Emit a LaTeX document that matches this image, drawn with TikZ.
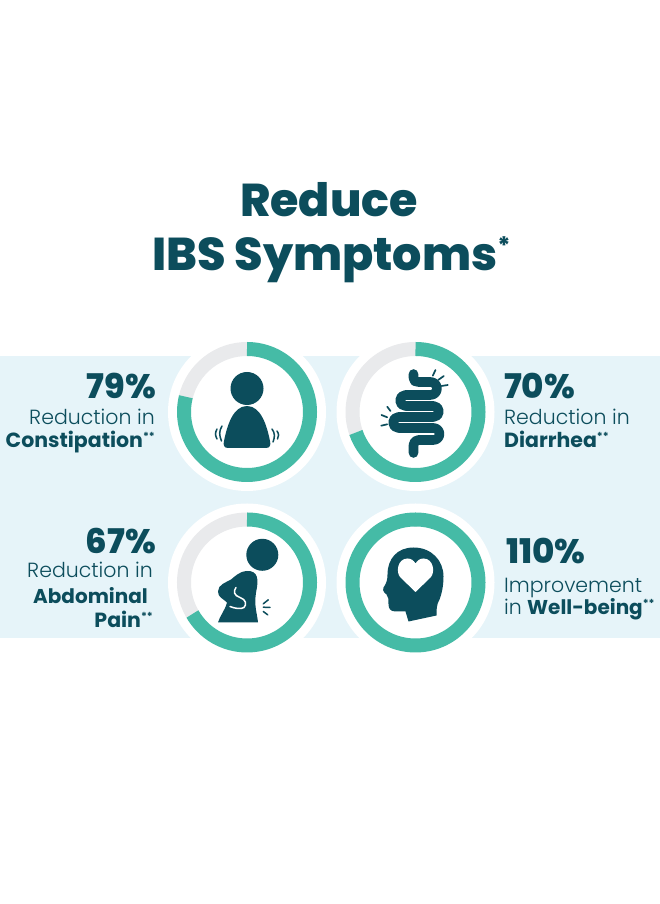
\documentclass[tikz,border=0pt]{standalone}
\usepackage{fontspec}
\setmainfont{Poppins}
\newfontfamily\lightfont{Poppins Light}
\newfontfamily\heavyfont{Poppins ExtraBold}
\definecolor{darkteal}{HTML}{0C4D5C}
\definecolor{ringteal}{HTML}{45BBA6}
\definecolor{ringgray}{HTML}{E9EAEC}
\definecolor{bandblue}{HTML}{E6F4F9}
\newcommand{\starmark}[1]{\raisebox{0.36em}{\fontsize{11}{11}\selectfont\bfseries #1}}
\tikzset{
  pctlabel/.style={inner sep=0pt, text=darkteal, font=\fontsize{34}{35}\selectfont\heavyfont},
  bodylabel/.style={inner sep=0pt, text=darkteal, font=\fontsize{20.5}{21}\selectfont\lightfont},
  boldlabel/.style={inner sep=0pt, text=darkteal, font=\fontsize{20.5}{21}\selectfont\bfseries},
  titlelabel/.style={inner sep=0pt, text=darkteal, font=\fontsize{46}{47}\selectfont\heavyfont},
  iconfill/.style={fill=darkteal, draw=none},
  iconline/.style={draw=darkteal, line cap=round, line width=1.5pt}
}
\begin{document}
\begin{tikzpicture}[x=1pt, y=1pt]
  \useasboundingbox (0,0) rectangle (660,904);
  \fill[white] (0,0) rectangle (660,904);

  % draws the band
  \fill[bandblue] (0,266) rectangle (660,548);

  % draws the title
  \node[titlelabel, anchor=base] (titleone) at (329,687) {Reduce};
  \node[titlelabel, anchor=base west] (titletwo) at (152,633) {IBS Symptoms\raisebox{0.36em}{\fontsize{24}{24}\selectfont *}};

  % draws the rings
  \foreach \cx/\cy/\stopangle in {247/492/-194, 415.5/492/-161, 247/321.5/-150, 415.5/321.5/-270} {
    \fill[white] (\cx,\cy) circle (79);
    \draw[ringgray, line width=14pt] (\cx,\cy) ++(\stopangle+361:63) arc[start angle=\stopangle+361, end angle=89, radius=63];
    \draw[ringteal, line width=14pt] (\cx,\cy) ++(90:63) arc[start angle=90, end angle=\stopangle, radius=63];
  }

  % draws the first icon
  \begin{scope}[shift={(247,492)}]
    \fill[iconfill] (0,23.5) circle (16.5);
    \fill[iconfill] (-19,-36) .. controls (-23,-36) and (-24,-33) .. (-23,-29)
      .. controls (-20,-14) and (-14,6) .. (0,6)
      .. controls (14,6) and (20,-14) .. (23,-29)
      .. controls (24,-33) and (23,-36) .. (19,-36) -- cycle;
    \draw[iconline] (-25,-14) .. controls (-28,-19) and (-28,-23) .. (-25.5,-29);
    \draw[iconline] (-30,-17) .. controls (-32,-21) and (-32,-23) .. (-30,-27);
    \draw[iconline] (25,-17) .. controls (28,-21) and (28,-25) .. (26,-30);
    \draw[iconline] (30,-19) .. controls (32,-22) and (32,-24) .. (30.5,-27);
  \end{scope}

  % draws the second icon
  \begin{scope}[shift={(415.5,492)}]
    \draw[draw=darkteal, line width=9.6pt, line cap=round, line join=round] (-2,38) -- (-2,34)
      .. controls (-2,31) and (0,30) .. (3,30) -- (15,30)
      arc[start angle=90, end angle=-90, radius=6.5] -- (-10,17)
      arc[start angle=90, end angle=270, radius=5.5] -- (18,6)
      arc[start angle=90, end angle=-90, radius=5.5] -- (-17,-5)
      arc[start angle=90, end angle=270, radius=5.5] -- (18,-16)
      arc[start angle=90, end angle=-90, radius=6] -- (3,-28)
      .. controls (0,-28) and (-2,-30) .. (-2,-33) -- (-2,-41);
    \foreach \ax/\ay/\bx/\by in {17.3/36.3/20/42, 22.7/32/28.3/36, 26/26/32.3/27, -25/1/-28.3/5.3, -28.3/-5.3/-34/-3, -28.3/-12.3/-34.3/-13.7}
      \draw[iconline, line width=1.7pt] (\ax,\ay) -- (\bx,\by);
  \end{scope}

  % draws the third icon
  \begin{scope}[shift={(247,321.5)}]
    \fill[iconfill] (15.3,27.7) circle (16);
    \fill[iconfill] (-29,-40) -- (11,-40) .. controls (10,-30) and (7,-24) .. (9,-10)
      .. controls (12,3) and (11,12) .. (0,11.5)
      .. controls (-8,11) and (-12,6) .. (-16,3)
      .. controls (-21,0) and (-29,-2) .. (-29,-9)
      .. controls (-29,-15) and (-24,-16) .. (-20,-20)
      .. controls (-22,-28) and (-27,-33) .. (-29,-40) -- cycle;
    \draw[white, line width=1.5pt, line cap=round] (-11,-5) .. controls (-14,-9) and (-13,-13) .. (-7,-15)
      .. controls (-1,-17) and (0,-22) .. (-3,-25) .. controls (-6,-27) and (-12,-26) .. (-17,-24);
    \foreach \ax/\ay/\bx/\by in {16.3/-21.3/21.3/-17.3, 16.3/-24.7/23/-25, 16.3/-29/20.7/-32.3}
      \draw[iconline] (\ax,\ay) -- (\bx,\by);
  \end{scope}

  % draws the fourth icon
  \begin{scope}[shift={(415.5,321.5)}]
    \fill[iconfill] (-2,35) .. controls (16,35) and (28,22) .. (28,6)
      .. controls (28,-4) and (26,-12) .. (24,-17)
      .. controls (21,-22) and (21,-27) .. (21,-33)
      -- (-7,-39) -- (-10,-29) -- (-20,-29)
      .. controls (-25,-29) and (-27,-26) .. (-27,-22)
      .. controls (-27,-17) and (-27,-14) .. (-29,-12)
      .. controls (-33,-9) and (-33,-6) .. (-32,-5)
      .. controls (-29,-1) and (-28,3) .. (-28,8)
      .. controls (-28,24) and (-18,35) .. (-2,35) -- cycle;
    \fill[white] (0,-9.5) -- (-15,5)
      .. controls (-20,10) and (-18,24) .. (-8,24)
      .. controls (-4,24) and (-2,22) .. (0,19)
      .. controls (2,22) and (4,24) .. (8,24)
      .. controls (18,24) and (20,10) .. (15,5) -- cycle;
  \end{scope}

  % draws the labels
  \node[pctlabel, anchor=base east] (pctone) at (156,505) {79\%};
  \node[bodylabel, anchor=base east] (bodyone) at (155,479.5) {Reduction in};
  \node[boldlabel, anchor=base east] (boldone) at (155,456) {Constipation\starmark{**}};

  \node[pctlabel, anchor=base west] (pcttwo) at (504,505) {70\%};
  \node[bodylabel, anchor=base west] (bodytwo) at (504,479.5) {Reduction in};
  \node[boldlabel, anchor=base west] (boldtwo) at (504,456) {Diarrhea\starmark{**}};

  \node[pctlabel, anchor=base east] (pctthree) at (156,350) {67\%};
  \node[bodylabel, anchor=base east] (bodythree) at (153,326) {Reduction in};
  \node[boldlabel, anchor=base east, font=\fontsize{20}{21}\selectfont\bfseries] (boldthree) at (148,300) {Abdominal};
  \node[boldlabel, anchor=base east] (boldfour) at (153,276) {Pain\starmark{**}};

  \node[pctlabel, anchor=base west] (pctfour) at (506,340) {110\%};
  \node[bodylabel, anchor=base west] (bodyfour) at (504,311) {Improvement};
  \node[bodylabel, anchor=base west] (infour) at (504,289) {in};
  \node[boldlabel, anchor=base west, font=\fontsize{20}{21}\selectfont\bfseries] (boldfive) at (527,289) {Well-being\starmark{**}};
\end{tikzpicture}
\end{document}
